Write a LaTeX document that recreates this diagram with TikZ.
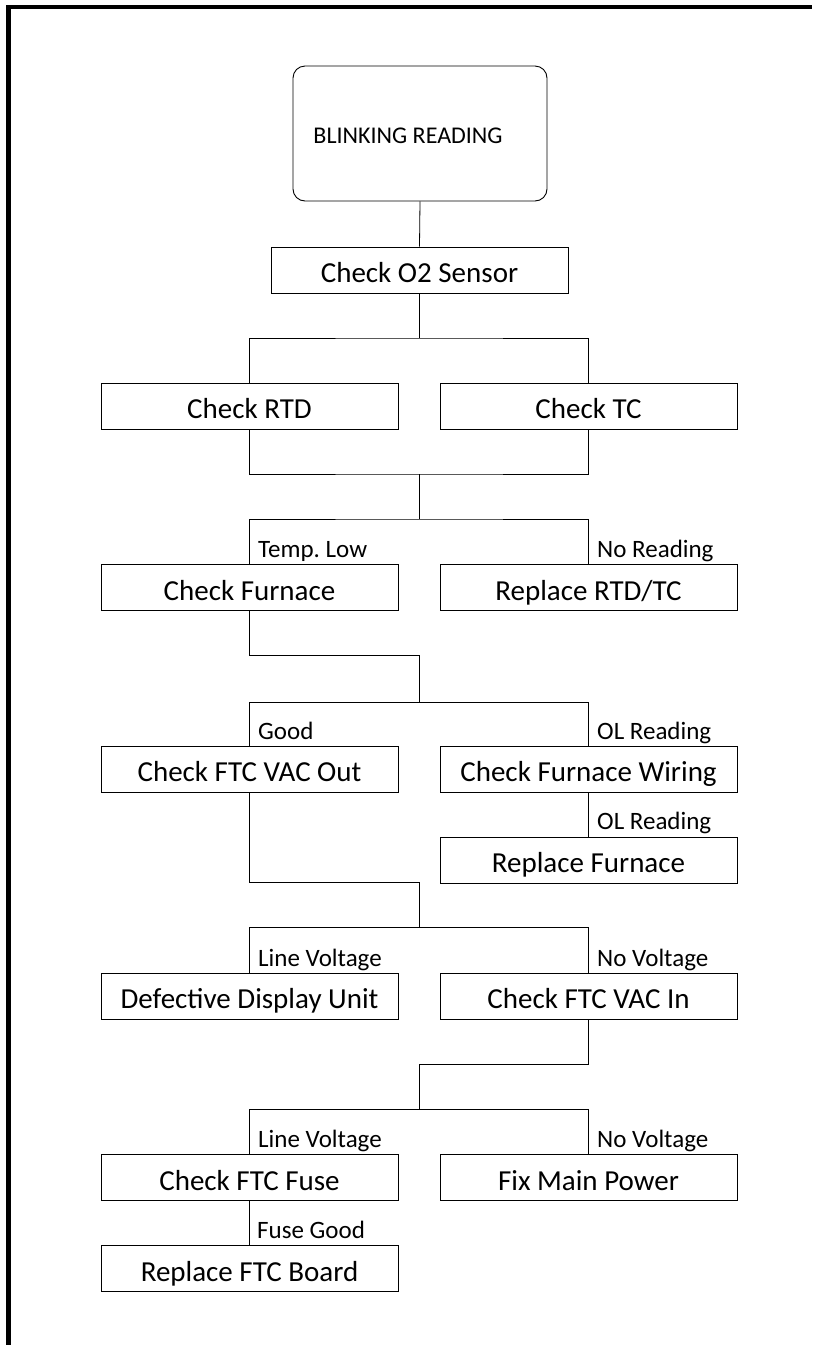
\documentclass[tikz,border=0pt]{standalone}
\usepackage{fontspec}
\setmainfont{Carlito}
\begin{document}
\begin{tikzpicture}[x=1pt,y=-1pt,
  box/.style={draw, line width=0.9pt, minimum width=297pt, minimum height=46pt, inner sep=0pt, text height=25pt, text depth=0pt, font=\fontsize{29}{31}\selectfont},
  lbl/.style={font=\fontsize{25}{27}\selectfont, anchor=base west, inner sep=0pt},
  conn/.style={line width=0.8pt}]
\useasboundingbox (0,0) rectangle (812,1345);
\draw[line width=4.5pt] (8.5,1345) -- (8.5,7) -- (812,7);
% nodes
\node[draw, line width=0.9pt, rounded corners=12pt, minimum width=254pt, minimum height=135pt] (blink) at (420,133.5) {};
\node[font=\fontsize{24}{26}\selectfont, inner sep=0pt, anchor=base] (blinkt) at (408,143) {BLINKING READING};
\node[box] (o2) at (419.5,270) {Check O2 Sensor};
\node[box] (rtd) at (249.5,406) {Check RTD};
\node[box] (tc) at (588.5,406) {Check TC};
\node[box] (furn) at (249.5,587.5) {Check Furnace};
\node[box] (rrt) at (588.5,587.5) {Replace RTD/TC};
\node[box] (vacout) at (249.5,769) {Check FTC VAC Out};
\node[box] (wiring) at (588.5,769) {Check Furnace Wiring};
\node[box] (repf) at (588.5,860) {Replace Furnace};
\node[box] (disp) at (249.5,996) {Defective Display Unit};
\node[box] (vacin) at (588.5,996) {Check FTC VAC In};
\node[box] (fuse) at (249.5,1177.5) {Check FTC Fuse};
\node[box] (fix) at (588.5,1177.5) {Fix Main Power};
\node[box] (board) at (249.5,1268.5) {Replace FTC Board};
% junctions
\coordinate (s1) at (419.5,338);
\coordinate (m1) at (419.5,474);
\coordinate (s2) at (419.5,519);
\coordinate (m2) at (419.5,655);
\coordinate (s3) at (419.5,702);
\coordinate (m3) at (419.5,882);
\coordinate (s4) at (419.5,927);
\coordinate (m4) at (419.5,1064);
\coordinate (s5) at (419.5,1109);
% connectors
\draw[conn] (blink.south) -- (o2.north);
\draw[conn] (o2.south) -- (s1);
\draw[conn] (rtd.north) |- (s1) -| (tc.north);
\draw[conn] (rtd.south) |- (m1) -| (tc.south);
\draw[conn] (m1) -- (s2);
\draw[conn] (furn.north) |- (s2) -| (rrt.north);
\draw[conn] (furn.south) |- (m2) -- (s3);
\draw[conn] (vacout.north) |- (s3) -| (wiring.north);
\draw[conn] (wiring.south) -- (repf.north);
\draw[conn] (vacout.south) |- (m3) -- (s4);
\draw[conn] (disp.north) |- (s4) -| (vacin.north);
\draw[conn] (vacin.south) |- (m4) -- (s5);
\draw[conn] (fuse.north) |- (s5) -| (fix.north);
\draw[conn] (fuse.south) -- (board.north);
% labels
\node[lbl] (l1) at (258,557) {Temp.\ Low};
\node[lbl] (l2) at (597,557) {No Reading};
\node[lbl] (l3) at (258,739) {Good};
\node[lbl] (l4) at (597,739) {OL Reading};
\node[lbl] (l5) at (597,829) {OL Reading};
\node[lbl] (l6) at (258,966) {Line Voltage};
\node[lbl] (l7) at (597,966) {No Voltage};
\node[lbl] (l8) at (258,1147) {Line Voltage};
\node[lbl] (l9) at (597,1147) {No Voltage};
\node[lbl] (l10) at (257,1238) {Fuse Good};
\end{tikzpicture}
\end{document}
